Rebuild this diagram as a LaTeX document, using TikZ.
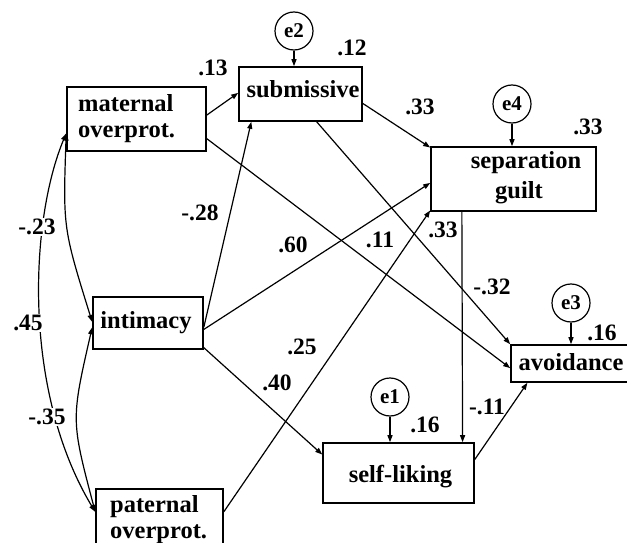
\documentclass[tikz,border=0pt]{standalone}
\usepackage{fontspec}
\setmainfont{Liberation Serif}
\usetikzlibrary{arrows.meta,calc}
\begin{document}
\begin{tikzpicture}[x=1pt,y=-1pt,
  box/.style={draw,line width=1.6pt,rectangle,inner sep=0pt},
  err/.style={draw,circle,line width=1.2pt,minimum size=38pt,inner sep=0pt,
    font=\fontsize{21}{21}\selectfont\bfseries},
  word/.style={inner sep=0pt,font=\fontsize{24.5}{25}\selectfont\bfseries},
  coef/.style={inner sep=1pt,font=\fontsize{23.5}{24}\selectfont\bfseries},
  coefw/.style={coef,fill=white},
  path/.style={line width=1.2pt,-{Triangle[length=7pt,width=5pt]}},
  cov/.style={line width=1.2pt,{Triangle[length=7pt,width=5pt]}-{Triangle[length=7pt,width=5pt]}},
]
\useasboundingbox (0,0) rectangle (627,543);

% observed variables
\node[box,minimum width=139pt,minimum height=64pt] (mat) at (136.5,119) {};
\node[box,minimum width=123pt,minimum height=54pt] (sub) at (300.5,94) {};
\node[box,minimum width=165pt,minimum height=64pt] (sep) at (513.5,179) {};
\node[box,minimum width=110pt,minimum height=52pt] (int) at (148,323) {};
\node[box,minimum width=127pt,minimum height=61pt] (pat) at (159.5,519.5) {};
\node[box,minimum width=117pt,minimum height=37pt] (avo) at (569.5,363.5) {};
\node[box,minimum width=151pt,minimum height=60pt] (sel) at (398.5,473) {};

% box texts
\node[word,anchor=base west] (matA) at (78,112) {maternal};
\node[word,anchor=base west] (matB) at (78,137) {overprot.};
\node[word,anchor=base] (subT) at (303,98) {submissive};
\node[word,anchor=base] (sepA) at (526,168) {separation};
\node[word,anchor=base] (sepB) at (519,198) {guilt};
\node[word,anchor=base] (intT) at (146,328) {intimacy};
\node[word,anchor=base west] (patA) at (110,512) {paternal};
\node[word,anchor=base west] (patB) at (110,538) {overprot.};
\node[word,anchor=base] (avoT) at (571,370) {avoidance};
\node[word,anchor=base] (selT) at (400.5,482) {self-liking};

% error terms
\node[err] (e2) at (294,31) {e2};
\node[err] (e4) at (512,104) {e4};
\node[err] (e3) at (571,303) {e3};
\node[err] (e1) at (390,397) {e1};

\draw[path] (e2.south) -- (e2.south |- sub.north);
\draw[path] (e4.south) -- (e4.south |- sep.north);
\draw[path] (e3.south) -- (e3.south |- avo.north);
\draw[path] (e1.south) -- (e1.south |- sel.north);

% regression paths
\draw[path] ($(mat.north east)!0.44!(mat.south east)$) -- ($(sub.north west)!0.48!(sub.south west)$);
\draw[path] ($(mat.north east)!0.80!(mat.south east)$) -- ($(avo.north west)!0.62!(avo.south west)$);
\draw[path] ($(int.north east)!0.58!(int.south east)$) -- ($(sub.south west)!0.105!(sub.south east)$);
\draw[path] ($(int.north east)!0.62!(int.south east)$) -- ($(sep.north west)!0.56!(sep.south west)$);
\draw[path] ($(int.north east)!0.96!(int.south east)$) -- ($(sel.north west)!0.2!(sel.south west)$);
\draw[path] ($(sub.north east)!0.67!(sub.south east)$) -- ($(sep.north west)!0.02!(sep.south west)$);
\draw[path] ($(sub.south west)!0.63!(sub.south east)$) -- (avo.north west);
\draw[path] ($(pat.north east)!0.377!(pat.south east)$) -- ($(sep.north west)!0.98!(sep.south west)$);
\draw[path] ($(sep.south west)!0.19!(sep.south east)$) -- ($(sel.north west)!0.92!(sel.north east)$);
\draw[path] ($(sel.north east)!0.28!(sel.south east)$) -- ($(avo.south west)!0.145!(avo.south east)$);

% covariances among exogenous variables
\draw[cov] ($(mat.north west)!0.72!(mat.south west)$) .. controls (30,220) and (22,390) .. ($(pat.north west)!0.377!(pat.south west)$);
\draw[cov] ($(mat.north west)!0.72!(mat.south west)$) .. controls (63,228) .. ($(int.north west)!0.48!(int.south west)$);
\draw[cov] ($(int.north west)!0.58!(int.south west)$) .. controls (71,420) .. ($(pat.north west)!0.377!(pat.south west)$);

% coefficients
\node[coefw] (cMI) at (37,227) {-.23};
\node[coefw] (cMP) at (28,323) {.45};
\node[coefw] (cIP) at (47,417) {-.35};
\node[coef] (rSub) at (213,68) {.13};
\node[coef] (rSub2) at (352,48) {.12};
\node[coef] (bSubSep) at (420,107) {.33};
\node[coef] (rSep) at (588,127) {.33};
\node[coef] (bIntSub) at (200,213) {-.28};
\node[coef] (bIntSep) at (293,245) {.60};
\node[coef] (bMatAvo) at (380,240) {.11};
\node[coef] (bSubAvo) at (443,230) {.33};
\node[coef] (bPatSep) at (302,347) {.25};
\node[coef] (bIntSel) at (277,383) {.40};
\node[coef] (bSepAvo) at (492,287) {-.32};
\node[coef] (bSelAvo) at (487,407) {-.11};
\node[coef] (rSel) at (425,425) {.16};
\node[coef] (rAvo) at (602,333) {.16};
\end{tikzpicture}
\end{document}
